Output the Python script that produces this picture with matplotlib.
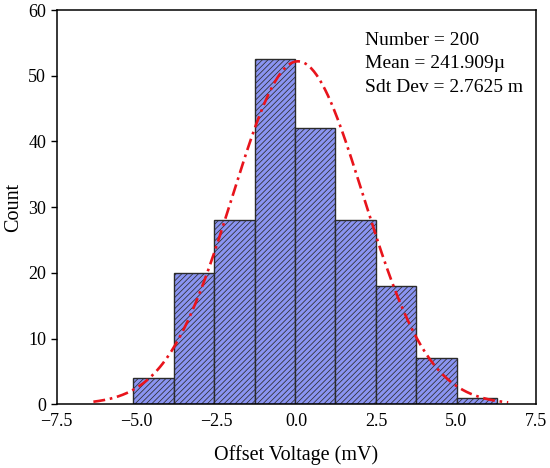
import numpy as np
import matplotlib
matplotlib.use('Agg')
import matplotlib.pyplot as plt

# histogram data
bin_start = -5.10
bin_width = 1.265
counts = [4, 20, 28, 52.5, 42, 28, 18, 7, 1]

# fitted normal curve (as drawn)
fit_amp = 52.2
fit_center = 0.05
fit_sigma = 2.05
fit_xmin = -6.35
fit_xmax = 6.63

stats_lines = ['Number = 200', 'Mean = 241.909\u00b5', 'Sdt Dev = 2.7625 m']

plt.rcParams['font.family'] = ['Liberation Serif', 'DejaVu Serif']
plt.rcParams['hatch.color'] = '#4a56a0'
plt.rcParams['hatch.linewidth'] = 0.55

fig = plt.figure(figsize=(5.5, 4.68), dpi=100)
ax = fig.add_axes([0.103, 0.136, 0.8715, 0.8425])

edges = bin_start + bin_width * np.arange(len(counts) + 1)
ax.bar(edges[:-1], counts, width=bin_width, align='edge',
       color='#8a94f2', edgecolor='#2b2b2b', linewidth=1.0, hatch='//////')

# fit line
xs = np.linspace(fit_xmin, fit_xmax, 300)
ys = fit_amp * np.exp(-(xs - fit_center) ** 2 / (2 * fit_sigma ** 2))
ax.plot(xs, ys, color='#e8141c', lw=1.9, linestyle=(0, (4.5, 1.8, 1, 1.8)))

ax.set_xlim(-7.5, 7.5)
ax.set_ylim(0, 60)
ax.set_xticks([-7.5, -5.0, -2.5, 0.0, 2.5, 5.0, 7.5])
ax.set_yticks(np.arange(0, 61, 10))
ax.tick_params(axis='x', length=0, pad=6, labelsize=13)
ax.tick_params(axis='y', direction='out', length=4, width=1, labelsize=13)
for s in ax.spines.values():
    s.set_linewidth(1.1)

ax.set_xlabel('Offset Voltage (mV)', fontsize=14.5, labelpad=11)
ax.set_ylabel('Count', fontsize=14.5, labelpad=4)

ax.text(0.643, 0.945, '\n'.join(stats_lines), transform=ax.transAxes,
        fontsize=14, va='top', ha='left', linespacing=1.5)

fig.savefig('out.png', dpi=100)
